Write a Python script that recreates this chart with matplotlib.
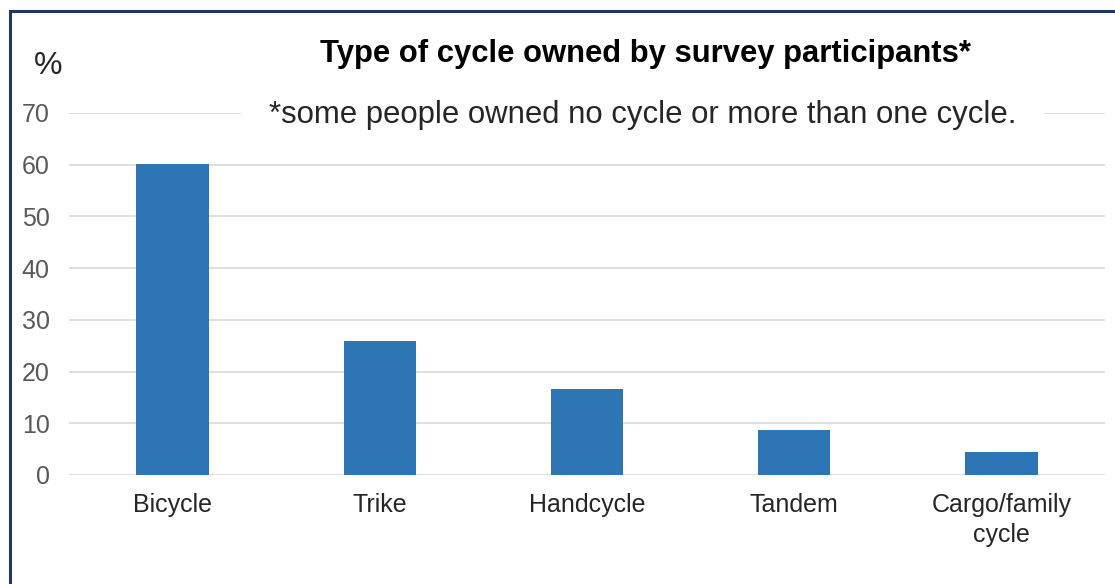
import matplotlib.pyplot as plt
from matplotlib.patches import Rectangle

categories = ["Bicycle", "Trike", "Handcycle", "Tandem", "Cargo/family\ncycle"]
percent = [60.2, 26.0, 16.6, 8.7, 4.4]
yticks = [0, 10, 20, 30, 40, 50, 60, 70]

plt.rcParams["font.family"] = ["Liberation Sans", "DejaVu Sans"]

fig = plt.figure(figsize=(11.15, 5.84), dpi=100)
ax = fig.add_axes([69 / 1115, 1 - 475 / 584, 1036 / 1115, 362 / 584])

x = range(len(categories))
ax.bar(x, percent, width=0.35, color="#2E75B6", zorder=2)

ax.set_xlim(-0.5, len(categories) - 0.5)
ax.set_ylim(0, 70)
ax.set_yticks(yticks)
ax.set_xticks(list(x))
ax.set_xticklabels(categories, fontsize=18, color="#262626", linespacing=1.3)
ax.tick_params(axis="y", length=0, pad=14, labelsize=18, labelcolor="#595959")
ax.tick_params(axis="x", length=0, pad=13)
ax.yaxis.grid(True, color="#D9D9D9", linewidth=1.2, zorder=0)
ax.set_axisbelow(True)
for s in ax.spines.values():
    s.set_visible(False)

# chart titles
fig.text(645 / 1115, 1 - 54 / 584, "Type of cycle owned by survey participants*",
         ha="center", va="center", fontsize=22.3, fontweight="bold", color="black")
fig.text(643 / 1115, 1 - 115 / 584, "*some people owned no cycle or more than one cycle.",
         ha="center", va="center", fontsize=22.4, color="#262626", zorder=5,
         bbox=dict(facecolor="white", edgecolor="none", pad=20))
fig.text(48 / 1115, 1 - 66 / 584, "%", ha="center", va="center",
         fontsize=23, color="#262626")

# outer frame
fig.patches.append(Rectangle((10 / 1115, -0.1), 1.2, 1 - 11 / 584 + 0.1,
                             transform=fig.transFigure, fill=False,
                             edgecolor="#1F3A5F", linewidth=2.2))

fig.savefig("out.png", dpi=100)
